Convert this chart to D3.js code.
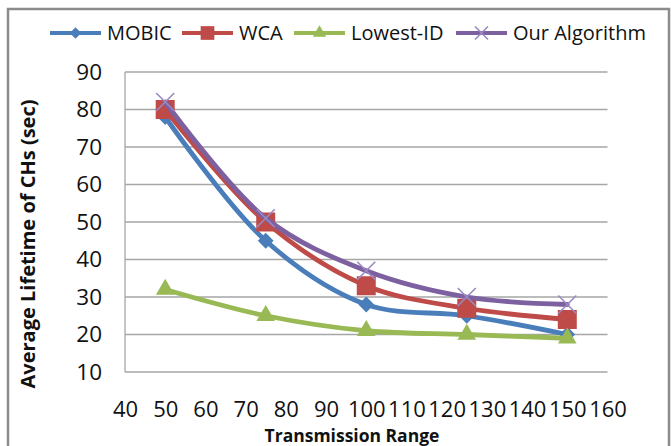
<!DOCTYPE html>
<html>
<head>
<meta charset="utf-8">
<script src="https://cdn.jsdelivr.net/npm/d3@7"></script>
<style>
  html, body { margin: 0; padding: 0; background: #fff; }
  svg { display: block; }
  text { font-family: "Open Sans", "Noto Sans", sans-serif; fill: #111; }
</style>
</head>
<body>
<svg id="chart" width="671" height="446"></svg>
<script>
// Transmission range values (x) and average CH lifetime per algorithm (y, seconds)
const ranges = [50, 75, 100, 125, 150];
const mobic = [78, 45, 28, 25, 20];
const wca = [80, 50, 33, 27, 24];
const lowestId = [32, 25, 21, 20, 19];
const ourAlgorithm = [82, 51, 37, 30, 28];

const seriesNames = ["MOBIC", "WCA", "Lowest-ID", "Our Algorithm"];
const xTicks = [40, 50, 60, 70, 80, 90, 100, 110, 120, 130, 140, 150, 160];
const yTicks = [10, 20, 30, 40, 50, 60, 70, 80, 90];

const series = [
  { name: seriesNames[0], values: mobic, color: "#4A7EBB", marker: "diamond" },
  { name: seriesNames[1], values: wca, color: "#BE4B48", marker: "square" },
  { name: seriesNames[2], values: lowestId, color: "#98B954", marker: "triangle" },
  { name: seriesNames[3], values: ourAlgorithm, color: "#7D60A0", marker: "cross" }
];

const svg = d3.select("#chart");
const plot = { left: 125, right: 607.5, top: 72, bottom: 372 };

// outer chart frame
svg.append("rect")
  .attr("x", 8).attr("y", 9)
  .attr("width", 661).attr("height", 450)
  .attr("fill", "none")
  .attr("stroke", "#8c8c8c")
  .attr("stroke-width", 2.5);

const x = d3.scaleLinear().domain([40, 160]).range([plot.left, plot.right]);
const y = d3.scaleLinear().domain([10, 90]).range([plot.bottom, plot.top]);

// horizontal gridlines
svg.append("g")
  .selectAll("line")
  .data(yTicks)
  .join("line")
  .attr("x1", plot.left).attr("x2", plot.right)
  .attr("y1", d => y(d)).attr("y2", d => y(d))
  .attr("stroke", "#a6a6a6")
  .attr("stroke-width", 1.3);

// left axis line
svg.append("line")
  .attr("x1", plot.left).attr("x2", plot.left)
  .attr("y1", plot.top).attr("y2", plot.bottom)
  .attr("stroke", "#a6a6a6")
  .attr("stroke-width", 1.3);

// y tick labels
const yAxis = d3.axisLeft(y).tickValues(yTicks).tickSize(0).tickPadding(23);
const gy = svg.append("g").attr("transform", `translate(${plot.left},0)`).call(yAxis);
gy.select(".domain").remove();
gy.selectAll("text")
  .attr("font-size", 22.5)
  .attr("font-family", "\"Open Sans\", sans-serif")
  .attr("fill", "#111");

// x tick labels
const xAxis = d3.axisBottom(x).tickValues(xTicks).tickSize(0).tickPadding(29.5);
const gx = svg.append("g").attr("transform", `translate(0,${plot.bottom})`).call(xAxis);
gx.select(".domain").remove();
gx.selectAll("text")
  .attr("font-size", 22)
  .attr("font-family", "\"Open Sans\", sans-serif")
  .attr("fill", "#111");

// axis titles
svg.append("text")
  .attr("transform", `translate(35,${(95 + 393) / 2}) rotate(-90)`)
  .attr("text-anchor", "middle")
  .attr("font-size", 20)
  .attr("font-weight", "bold")
  .text("Average Lifetime of CHs (sec)");

svg.append("text")
  .attr("x", 352).attr("y", 442)
  .attr("text-anchor", "middle")
  .attr("font-size", 17.5)
  .attr("font-weight", "bold")
  .text("Transmission Range");

// marker drawing helper
function drawMarker(g, type, cx, cy, color, scale) {
  const k = scale || 1;
  if (type === "diamond") {
    g.append("path")
      .attr("d", d3.symbol(d3.symbolSquare, 125 * k * k)())
      .attr("transform", `translate(${cx},${cy}) rotate(45)`)
      .attr("fill", color);
  } else if (type === "square") {
    g.append("path")
      .attr("d", d3.symbol(d3.symbolSquare, 361 * k * k)())
      .attr("transform", `translate(${cx},${cy})`)
      .attr("fill", color);
  } else if (type === "triangle") {
    g.append("path")
      .attr("d", d3.symbol(d3.symbolTriangle, 150 * k * k)())
      .attr("transform", `translate(${cx},${cy})`)
      .attr("fill", color);
  } else if (type === "cross") {
    const r = 9 * k;
    g.append("path")
      .attr("d", `M${cx - r},${cy - r}L${cx + r},${cy + r}M${cx + r},${cy - r}L${cx - r},${cy + r}`)
      .attr("stroke", "#9c88c2")
      .attr("stroke-width", 1.6)
      .attr("fill", "none");
  }
}

// series lines and markers
const line = d3.line()
  .x(d => x(d[0]))
  .y(d => y(d[1]))
  .curve(d3.curveCatmullRom.alpha(0.5));

series.forEach(s => {
  const pts = ranges.map((r, i) => [r, s.values[i]]);
  const g = svg.append("g");
  g.append("path")
    .datum(pts)
    .attr("d", line)
    .attr("fill", "none")
    .attr("stroke", s.color)
    .attr("stroke-width", 4.8)
    .attr("stroke-linejoin", "round")
    .attr("stroke-linecap", "round");
  pts.forEach(p => drawMarker(g, s.marker, x(p[0]), y(p[1]), s.color, 1));
});

// legend: one sample line + marker + label per series
const legendX = [50, 182, 294, 456];
const ly = 33;
series.forEach((s, i) => {
  const lx = legendX[i];
  const item = svg.append("g");
  item.append("line")
    .attr("x1", lx).attr("x2", lx + 51)
    .attr("y1", ly).attr("y2", ly)
    .attr("stroke", s.color)
    .attr("stroke-width", 4.2);
  drawMarker(item, s.marker, lx + 25.5, ly, s.color, 0.72);
  item.append("text")
    .attr("x", lx + 57)
    .attr("y", ly + 7)
    .attr("font-size", 20)
    .text(s.name);
});
</script>
</body>
</html>
